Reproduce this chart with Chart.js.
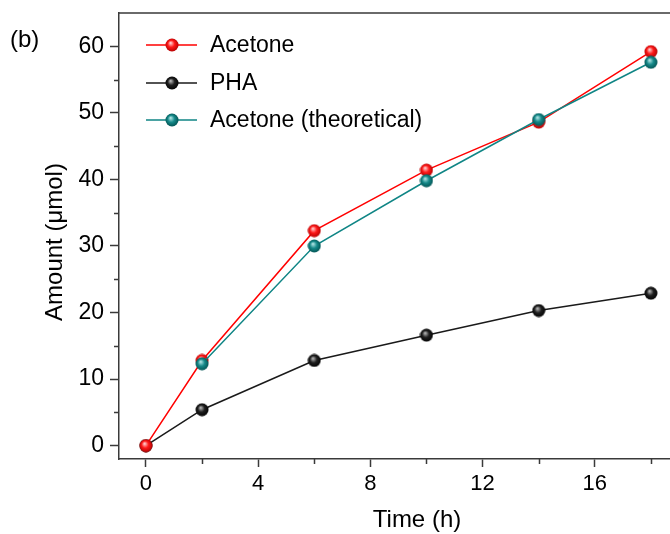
<!DOCTYPE html>
<html>
<head>
<meta charset="utf-8">
<script src="https://cdn.jsdelivr.net/npm/chart.js@4"></script>
<style>
  html, body { margin: 0; padding: 0; background: #fff; overflow: hidden; }
  #wrap { position: relative; width: 670px; height: 534px; }
</style>
</head>
<body>
<div id="wrap"><canvas id="chart" width="670" height="534"></canvas></div>
<script>
// data
const times = [0, 2, 6, 10, 14, 18];
const acetone = [0, 12.8, 32.3, 41.4, 48.6, 59.2];
const pha = [0, 5.4, 12.8, 16.6, 20.3, 22.9];
const acetoneTheo = [null, 12.3, 30.0, 39.8, 49.0, 57.6];
const seriesNames = ["Acetone", "PHA", "Acetone (theoretical)"];
const xTickValues = [0, 2, 4, 6, 8, 10, 12, 14, 16, 18];
const yTickValues = [0, 5, 10, 15, 20, 25, 30, 35, 40, 45, 50, 55, 60];

const FONT = "'Liberation Sans', Arial, sans-serif";
const AXIS = "#3a3a3a";

// shaded ball marker
function ball(light, mid, dark) {
  const c = document.createElement("canvas");
  const s = 14;
  c.width = s; c.height = s;
  const g = c.getContext("2d");
  const grad = g.createRadialGradient(s * 0.4, s * 0.35, 0.5, s / 2, s / 2, s / 2);
  grad.addColorStop(0, light);
  grad.addColorStop(0.45, mid);
  grad.addColorStop(1, dark);
  g.fillStyle = grad;
  g.beginPath();
  g.arc(s / 2, s / 2, s / 2 - 0.5, 0, Math.PI * 2);
  g.fill();
  return c;
}

const redBall = ball("#ffc8c8", "#ff1a1a", "#b00000");
const blackBall = ball("#b0b0b0", "#202020", "#000000");
const tealBall = ball("#a8e0e0", "#168a8a", "#004f4f");

const ctx = document.getElementById("chart").getContext("2d");

const extras = {
  id: "extras",
  afterDraw(chart) {
    const c = chart.ctx;
    const area = chart.chartArea;
    const xs = chart.scales.x;
    const ys = chart.scales.y;
    c.save();

    // minor ticks
    c.strokeStyle = AXIS;
    c.lineWidth = 1.5;
    c.beginPath();
    xTickValues.filter((v) => v % 4 !== 0).forEach((v) => {
      const px = Math.round(xs.getPixelForValue(v)) + 0.5;
      c.moveTo(px, area.bottom);
      c.lineTo(px, area.bottom + 5);
    });
    yTickValues.filter((v) => v % 10 !== 0).forEach((v) => {
      const py = Math.round(ys.getPixelForValue(v)) + 0.5;
      c.moveTo(area.left, py);
      c.lineTo(area.left - 5, py);
    });
    // top frame line
    c.moveTo(area.left, area.top);
    c.lineTo(area.right, area.top);
    c.stroke();

    // axis titles and panel label
    c.fillStyle = "#000";
    c.font = "24px " + FONT;
    c.textAlign = "center";
    c.textBaseline = "middle";
    c.fillText("Time (h)", 417, 520);
    c.save();
    c.translate(55, 242);
    c.rotate(-Math.PI / 2);
    c.fillText("Amount (\u03bcmol)", 0, 0);
    c.restore();
    c.textAlign = "left";
    c.fillText("(b)", 10, 40);

    // legend
    const rows = [45, 83, 120];
    c.font = "23px " + FONT;
    chart.data.datasets.forEach((ds, i) => {
      const y = rows[i];
      c.strokeStyle = ds.borderColor;
      c.lineWidth = 1.5;
      c.beginPath();
      c.moveTo(146, y);
      c.lineTo(197, y);
      c.stroke();
      const img = ds.pointStyle;
      c.drawImage(img, 172 - img.width / 2, y - img.height / 2);
      c.fillStyle = "#000";
      c.fillText(ds.label, 210, y + 1);
    });
    c.restore();
  },
};

new Chart(ctx, {
  type: "line",
  data: {
    labels: times,
    datasets: [
      {
        label: seriesNames[0],
        data: times.map((t, i) => ({ x: t, y: acetone[i] })),
        borderColor: "#ff0000",
        borderWidth: 1.5,
        pointStyle: redBall,
        order: 1,
      },
      {
        label: seriesNames[1],
        data: times.map((t, i) => ({ x: t, y: pha[i] })),
        borderColor: "#1a1a1a",
        borderWidth: 1.5,
        pointStyle: blackBall,
        order: 3,
      },
      {
        label: seriesNames[2],
        data: times.map((t, i) => ({ x: t, y: acetoneTheo[i] })),
        borderColor: "#0f8585",
        borderWidth: 1.5,
        pointStyle: tealBall,
        order: 0,
      },
    ],
  },
  options: {
    responsive: false,
    animation: false,
    layout: { autoPadding: false, padding: { top: 13, right: 0, left: 0, bottom: 0 } },
    plugins: {
      legend: { display: false },
      tooltip: { enabled: false },
    },
    elements: { line: { tension: 0 }, point: { radius: 6 } },
    scales: {
      x: {
        type: "linear",
        min: -0.96,
        max: 18.68,
        afterBuildTicks: (s) => { s.ticks = xTickValues.map((v) => ({ value: v })); },
        afterFit: (s) => { s.height = 75; s.paddingLeft = 0; s.paddingRight = 0; },
        border: { display: true, color: AXIS, width: 1.5 },
        grid: {
          drawOnChartArea: false,
          drawTicks: true,
          tickLength: 8,
          tickWidth: 1.5,
          tickColor: (c) => (c.tick && c.tick.value % 4 === 0 ? AXIS : "rgba(0,0,0,0)"),
        },
        ticks: {
          autoSkip: false,
          maxRotation: 0,
          padding: 4,
          color: "#000",
          font: { family: FONT, size: 22 },
          callback: (v) => (v % 4 === 0 ? v : ""),
        },
      },
      y: {
        min: -2,
        max: 65,
        afterBuildTicks: (s) => { s.ticks = yTickValues.map((v) => ({ value: v })); },
        afterFit: (s) => { s.width = 119; s.paddingTop = 0; s.paddingBottom = 0; },
        border: { display: true, color: AXIS, width: 1.5 },
        grid: {
          drawOnChartArea: false,
          drawTicks: true,
          tickLength: 9,
          tickWidth: 1.5,
          tickColor: (c) => (c.tick && c.tick.value % 10 === 0 ? AXIS : "rgba(0,0,0,0)"),
        },
        ticks: {
          autoSkip: false,
          padding: 6,
          color: "#000",
          font: { family: FONT, size: 23 },
          callback: (v) => (v % 10 === 0 ? v : ""),
        },
      },
    },
  },
  plugins: [extras],
});
</script>
</body>
</html>
